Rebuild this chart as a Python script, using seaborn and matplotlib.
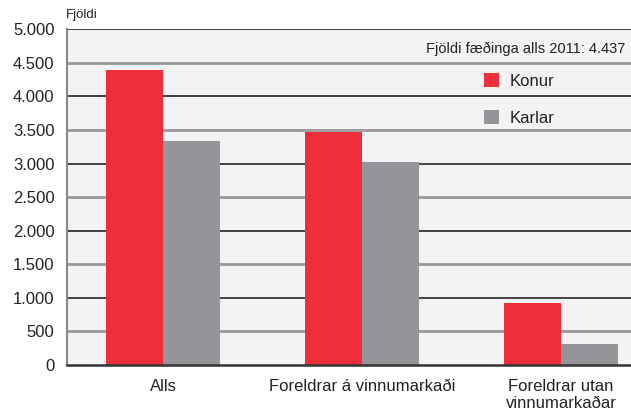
import pandas as pd
import matplotlib
matplotlib.use("Agg")
import matplotlib.pyplot as plt
import seaborn as sns

# Data
categories = ["Alls", "Foreldrar á vinnumarkaði", "Foreldrar utan\nvinnumarkaðar"]
konur = [4394, 3470, 923]
karlar = [3336, 3023, 313]
series_names = ["Konur", "Karlar"]
y_ticks = [0, 500, 1000, 1500, 2000, 2500, 3000, 3500, 4000, 4500, 5000]
total_note = "Fjöldi fæðinga alls 2011: 4.437"

df = pd.DataFrame({
    "flokkur": categories * 2,
    "kyn": ["Konur"] * 3 + ["Karlar"] * 3,
    "fjoldi": konur + karlar,
})

sns.set_style("white")
plt.rcParams["font.family"] = ["Liberation Sans", "DejaVu Sans"]

fig = plt.figure(figsize=(6.31, 4.11), dpi=100)
ax = fig.add_axes([67 / 631, 1 - 365 / 411, 1 - 67 / 631, (365 - 29.3) / 411])
ax.set_facecolor("#f3f3f3")

palette = {"Konur": "#ee2e3a", "Karlar": "#959599"}
sns.barplot(data=df, x="flokkur", y="fjoldi", hue="kyn", hue_order=series_names,
            palette=palette, saturation=1, width=0.573, gap=0, linewidth=0,
            ax=ax, zorder=3)

ax.set_ylim(0, 5000)
ax.set_xlim(-0.482, 2.352)
ax.set_yticks(y_ticks)
ax.set_yticklabels([f"{v:,}".replace(",", ".") for v in y_ticks])
ax.set_xlabel("")
ax.set_ylabel("")
ax.tick_params(axis="both", length=0, labelsize=12, labelcolor="#222222")
ax.tick_params(axis="y", pad=9)
ax.tick_params(axis="x", pad=10)

# alternating gridlines: thousands dark, half-thousands grey
for v in y_ticks[1:]:
    if v % 1000 == 0:
        ax.axhline(v, color="#333333", lw=1.3, zorder=1)
    else:
        ax.axhline(v, color="#999999", lw=2.0, zorder=1)

for side in ["top", "right"]:
    ax.spines[side].set_visible(False)
ax.spines["left"].set_color("#888888")
ax.spines["left"].set_linewidth(1.5)
ax.spines["bottom"].set_color("#333333")
ax.spines["bottom"].set_linewidth(1.8)
ax.spines["bottom"].set_zorder(4)

ax.legend(loc="upper left", bbox_to_anchor=((484 - 67) / 564, 1 - (73 - 29.3) / 335.7),
          frameon=False, fontsize=12, handlelength=0.9, handleheight=0.9,
          handletextpad=0.65, labelspacing=1.27, borderpad=0, borderaxespad=0,
          labelcolor="#222222")

ax.text(0.99, 1 - (49 - 29.3) / 335.7, total_note, transform=ax.transAxes,
        ha="right", va="center", fontsize=10.5, color="#222222")

fig.text(66 / 631, 1 - 15 / 411, "Fjöldi", ha="left", va="center",
         fontsize=9.5, color="#222222")

fig.savefig("out.png", dpi=100)
